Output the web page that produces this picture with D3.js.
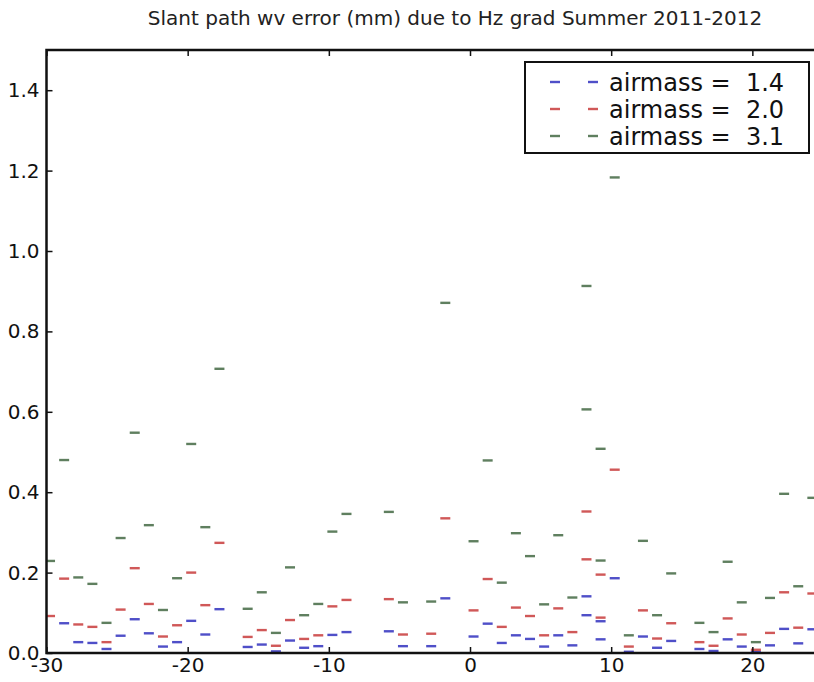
<!DOCTYPE html>
<html>
<head>
<meta charset="utf-8">
<script src="https://cdn.jsdelivr.net/npm/d3@7/dist/d3.min.js"></script>
<style>
  body { margin: 0; background: #fff; }
  svg { display: block; font-family: "DejaVu Sans", sans-serif; }
</style>
</head>
<body>
<div class="canvas"></div>
<script>
// x positions (days) of each sample, two samples sit on 8.25 and 9.25
const days = [-29.75, -28.75, -27.75, -26.75, -25.75, -24.75, -23.75, -22.75, -21.75, -20.75,
  -19.75, -18.75, -17.75, -15.75, -14.75, -13.75, -12.75, -11.75, -10.75, -9.75,
  -8.75, -5.75, -4.75, -2.75, -1.75, 0.25, 1.25, 2.25, 3.25, 4.25,
  5.25, 6.25, 7.25, 8.25, 8.25, 9.25, 9.25, 10.25, 11.25, 12.25,
  13.25, 14.25, 16.25, 17.25, 18.25, 19.25, 20.25, 21.25, 22.25, 23.25, 24.25];

const airmass14 = [null, 0.074, 0.027, 0.025, 0.010, 0.043, 0.084, 0.049, 0.016, 0.027,
  0.080, 0.046, 0.109, 0.015, 0.021, 0.004, 0.031, 0.013, 0.017, 0.045,
  0.052, 0.054, 0.017, 0.017, 0.136, 0.041, 0.073, 0.025, 0.044, 0.035,
  0.016, 0.044, 0.019, 0.141, 0.094, 0.079, 0.034, 0.186, 0.003, 0.041,
  0.013, 0.030, 0.010, 0.005, 0.034, 0.016, 0.003, 0.019, 0.060, 0.024, 0.059];

const airmass20 = [0.092, 0.185, 0.071, 0.065, 0.027, 0.108, 0.211, 0.122, 0.041, 0.069,
  0.200, 0.119, 0.274, 0.040, 0.057, 0.018, 0.082, 0.035, 0.044, 0.116,
  0.132, 0.134, 0.046, 0.048, 0.335, 0.106, 0.184, 0.065, 0.113, 0.092,
  0.044, 0.111, 0.052, 0.352, 0.233, 0.195, 0.088, 0.456, 0.016, 0.106,
  0.036, 0.074, 0.027, 0.018, 0.086, 0.046, 0.008, 0.050, 0.151, 0.063, 0.148];

const airmass31 = [0.229, 0.480, 0.188, 0.172, 0.075, 0.286, 0.548, 0.318, 0.107, 0.186,
  0.520, 0.313, 0.707, 0.110, 0.151, 0.050, 0.213, 0.094, 0.122, 0.302,
  0.346, 0.351, 0.126, 0.128, 0.871, 0.278, 0.479, 0.175, 0.298, 0.241,
  0.121, 0.293, 0.138, 0.913, 0.606, 0.508, 0.230, 1.183, 0.044, 0.279,
  0.094, 0.198, 0.075, 0.052, 0.227, 0.126, 0.027, 0.137, 0.396, 0.166, 0.386];

const seriesNames = ["airmass =  1.4", "airmass =  2.0", "airmass =  3.1"];
const seriesColors = ["#4f4fc8", "#d05858", "#5f7f5f"];
const xTicks = [-30, -20, -10, 0, 10, 20];
const yTicks = [0, 0.2, 0.4, 0.6, 0.8, 1.0, 1.2, 1.4];

const W = 814, H = 682;
const padL = 46.5, padT = 50, padB = 653;

const svg = d3.select(".canvas").append("svg").attr("width", W).attr("height", H);

let x = d3.scaleLinear().domain([-30, 25]).range([padL, padL + 55 * 14.117]);
let y = d3.scaleLinear().domain([0, 1.5]).range([padB, padT]);
const padR = x(25);

svg.append("text")
  .attr("x", 455).attr("y", 25)
  .attr("text-anchor", "middle")
  .style("font-size", "20px")
  .attr("fill", "#222")
  .text("Slant path wv error (mm) due to Hz grad Summer 2011-2012");

svg.append("clipPath").attr("id", "plotclip")
  .append("rect").attr("x", padL).attr("y", padT).attr("width", padR - padL).attr("height", padB - padT);

const plot = svg.append("g").attr("clip-path", "url(#plotclip)");

// one group of dashes per airmass
[airmass14, airmass20, airmass31].forEach((vals, s) => {
  const pts = days.map((d, i) => ({ x: d, v: vals[i] })).filter((p) => p.v !== null);
  plot.selectAll(".m" + s)
    .data(pts)
    .enter()
    .append("rect")
    .attr("class", "m" + s)
    .attr("x", (d) => x(d.x) - 5)
    .attr("y", (d) => y(d.v) - 1.2)
    .attr("width", 10)
    .attr("height", 2.4)
    .attr("fill", seriesColors[s]);
});

// axes, ticks point inward like matplotlib
const fmtX = (d) => String(d);
svg.append("g")
  .attr("transform", `translate(0,${padB})`)
  .call(d3.axisBottom(x).tickValues(xTicks).tickSize(-6).tickPadding(5).tickFormat(fmtX))
  .call((g) => g.select(".domain").remove());
svg.append("g")
  .attr("transform", `translate(0,${padT})`)
  .call(d3.axisTop(x).tickValues(xTicks).tickSize(-6).tickFormat(""))
  .call((g) => g.select(".domain").remove());
svg.append("g")
  .attr("transform", `translate(${padL},0)`)
  .call(d3.axisLeft(y).tickValues(yTicks).tickSize(-6).tickPadding(7).tickFormat(d3.format(".1f")))
  .call((g) => g.select(".domain").remove());

svg.selectAll(".tick line").attr("stroke", "#111").attr("stroke-width", 1.5);
svg.selectAll(".tick text").style("font-size", "20px").attr("fill", "#111")
  .style("font-family", "DejaVu Sans, sans-serif");

svg.append("rect")
  .attr("x", padL).attr("y", padT)
  .attr("width", padR - padL).attr("height", padB - padT)
  .attr("fill", "none").attr("stroke", "#111").attr("stroke-width", 2.5);

// legend
const lg = svg.append("g");
lg.append("rect")
  .attr("x", 525).attr("y", 62).attr("width", 284).attr("height", 91)
  .attr("fill", "#fff").attr("stroke", "#111").attr("stroke-width", 2);
seriesNames.forEach((name, i) => {
  const cy = 82 + i * 27;
  [555, 593].forEach((mx) => {
    lg.append("rect").attr("x", mx - 5).attr("y", cy - 1.2).attr("width", 10).attr("height", 2.4)
      .attr("fill", seriesColors[i]);
  });
  lg.append("text")
    .attr("x", 609).attr("y", cy).attr("dy", "0.36em")
    .style("font-size", "24px").style("white-space", "pre").attr("fill", "#111")
    .text(name);
});
</script>
</body>
</html>
